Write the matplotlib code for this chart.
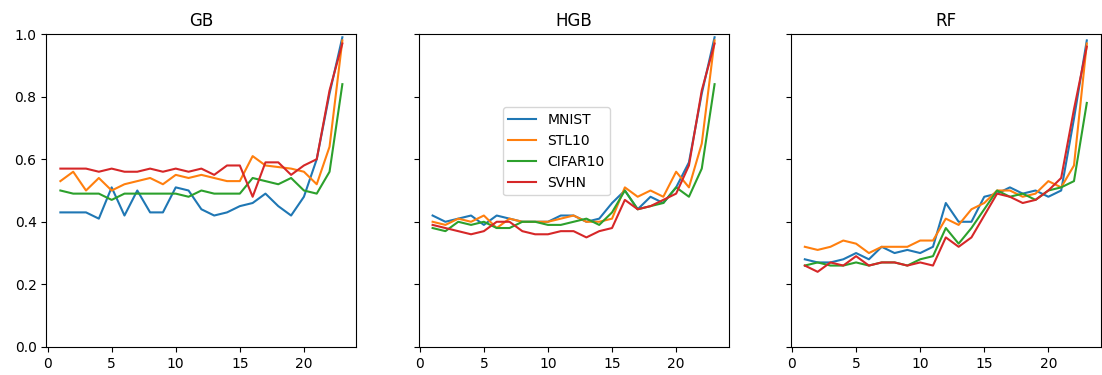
import matplotlib
matplotlib.use("Agg")
import matplotlib.pyplot as plt

x = list(range(1, 24))
datasets = ["MNIST", "STL10", "CIFAR10", "SVHN"]
models = ["GB", "HGB", "RF"]

gb_mnist = [0.43, 0.43, 0.43, 0.41, 0.51, 0.42, 0.50, 0.43, 0.43, 0.51, 0.50, 0.44,
            0.42, 0.43, 0.45, 0.46, 0.49, 0.45, 0.42, 0.48, 0.60, 0.81, 0.99]
gb_stl10 = [0.53, 0.56, 0.50, 0.54, 0.50, 0.52, 0.53, 0.54, 0.52, 0.55, 0.54, 0.55,
            0.54, 0.53, 0.53, 0.61, 0.58, 0.575, 0.57, 0.56, 0.52, 0.64, 0.98]
gb_cifar10 = [0.50, 0.49, 0.49, 0.49, 0.47, 0.49, 0.49, 0.49, 0.49, 0.49, 0.48, 0.50,
              0.49, 0.49, 0.49, 0.54, 0.53, 0.52, 0.54, 0.50, 0.49, 0.56, 0.84]
gb_svhn = [0.57, 0.57, 0.57, 0.56, 0.57, 0.56, 0.56, 0.57, 0.56, 0.57, 0.56, 0.57,
           0.55, 0.58, 0.58, 0.48, 0.59, 0.59, 0.55, 0.58, 0.60, 0.82, 0.97]

hgb_mnist = [0.42, 0.40, 0.41, 0.42, 0.39, 0.42, 0.41, 0.40, 0.40, 0.40, 0.42, 0.42,
             0.40, 0.41, 0.46, 0.50, 0.44, 0.48, 0.46, 0.51, 0.59, 0.81, 0.99]
hgb_stl10 = [0.40, 0.39, 0.41, 0.40, 0.42, 0.38, 0.41, 0.40, 0.40, 0.40, 0.41, 0.42,
             0.40, 0.40, 0.41, 0.51, 0.48, 0.50, 0.48, 0.56, 0.51, 0.65, 0.98]
hgb_cifar10 = [0.38, 0.37, 0.40, 0.39, 0.40, 0.38, 0.38, 0.40, 0.40, 0.39, 0.39, 0.40,
               0.41, 0.39, 0.43, 0.50, 0.44, 0.45, 0.46, 0.51, 0.48, 0.57, 0.84]
hgb_svhn = [0.39, 0.38, 0.37, 0.36, 0.37, 0.40, 0.40, 0.37, 0.36, 0.36, 0.37, 0.37,
            0.35, 0.37, 0.38, 0.47, 0.44, 0.45, 0.47, 0.49, 0.58, 0.82, 0.97]

rf_mnist = [0.28, 0.27, 0.27, 0.28, 0.30, 0.28, 0.32, 0.30, 0.31, 0.30, 0.32, 0.46,
            0.40, 0.40, 0.48, 0.49, 0.51, 0.49, 0.50, 0.48, 0.50, 0.73, 0.98]
rf_stl10 = [0.32, 0.31, 0.32, 0.34, 0.33, 0.30, 0.32, 0.32, 0.32, 0.34, 0.34, 0.41,
            0.39, 0.44, 0.46, 0.50, 0.50, 0.48, 0.49, 0.53, 0.51, 0.58, 0.97]
rf_cifar10 = [0.26, 0.27, 0.26, 0.26, 0.27, 0.26, 0.27, 0.27, 0.26, 0.28, 0.29, 0.38,
              0.33, 0.38, 0.44, 0.50, 0.48, 0.49, 0.47, 0.50, 0.51, 0.53, 0.78]
rf_svhn = [0.26, 0.24, 0.27, 0.26, 0.29, 0.26, 0.27, 0.27, 0.26, 0.27, 0.26, 0.35,
           0.32, 0.35, 0.42, 0.49, 0.48, 0.46, 0.47, 0.50, 0.54, 0.76, 0.96]

series = {
    "GB": [gb_mnist, gb_stl10, gb_cifar10, gb_svhn],
    "HGB": [hgb_mnist, hgb_stl10, hgb_cifar10, hgb_svhn],
    "RF": [rf_mnist, rf_stl10, rf_cifar10, rf_svhn],
}

fig, axes = plt.subplots(1, 3, sharey=True, figsize=(11.02, 3.75), dpi=100)
fig.subplots_adjust(left=0.042, right=0.999, top=0.909, bottom=0.075, wspace=0.2)

for ax, model in zip(axes, models):
    for name, values in zip(datasets, series[model]):
        ax.plot(x, values, label=name)
    ax.set_title(model)
    ax.set_ylim(0, 1)

# legend sits roughly in the middle of the HGB panel
axes[1].legend(loc="center", bbox_to_anchor=(0.445, 0.625))

fig.savefig("out.png", dpi=100)
